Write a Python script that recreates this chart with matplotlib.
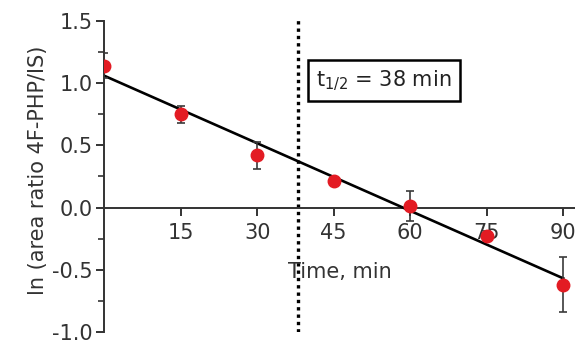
import matplotlib.pyplot as plt
import numpy as np
from matplotlib.ticker import MultipleLocator

time_min = [0, 15, 30, 45, 60, 75, 90]
ln_ratio = [1.14, 0.75, 0.42, 0.21, 0.01, -0.23, -0.62]
ln_err = [0.10, 0.07, 0.11, 0.03, 0.12, 0.04, 0.22]
fit_intercept = 1.06
fit_slope = -0.0181
t_half = 38

plt.rcParams['font.family'] = 'DejaVu Sans'
plt.rcParams['axes.unicode_minus'] = False
fig = plt.figure(figsize=(5.75, 3.46), dpi=100)
ax = fig.add_axes([0.181, 0.0405, 0.819, 0.935])

ax.set_xlim(0, 92.3)
ax.set_ylim(-1.0, 1.6)

# fit line
xf = np.array([0, 90])
ax.plot(xf, fit_intercept + fit_slope * xf, color='black', lw=1.9, zorder=3)

ax.errorbar(time_min, ln_ratio, yerr=ln_err, fmt='o', color='#e31b23',
            ms=9, ecolor='#3a3a3a', elinewidth=1.2, capsize=3, capthick=1.2,
            zorder=4)

ax.vlines(t_half, -1.0, 1.53, colors='black', linestyles=(0, (1, 1.2)), lw=2.4, zorder=2)

ax.text(54.8, 1.02, r'$\mathregular{t_{1/2}}$ = 38 min', fontsize=15,
        ha='center', va='center', color='#222222',
        bbox=dict(boxstyle='square,pad=0.4', fc='white', ec='black', lw=1.8))

ax.text(46.3, -0.52, 'Time, min', fontsize=15, ha='center', va='center', color='#333333')
ax.set_ylabel('ln (area ratio 4F-PHP/IS)', fontsize=15, color='#333333', labelpad=3)

for s in ['top', 'right']:
    ax.spines[s].set_visible(False)
ax.spines['bottom'].set_position(('data', 0))
ax.spines['left'].set_bounds(-1.0, 1.5)
for s in ['left', 'bottom']:
    ax.spines[s].set_linewidth(1.4)
    ax.spines[s].set_color('#333333')

ax.set_xticks([15, 30, 45, 60, 75, 90])
ax.set_yticks([-1.0, -0.5, 0.0, 0.5, 1.0, 1.5])
ax.yaxis.set_minor_locator(MultipleLocator(0.25))
ax.tick_params(axis='both', which='major', length=6, width=1.4, color='#333333',
               labelsize=15, labelcolor='#333333')
ax.tick_params(axis='y', which='minor', length=4, width=1.2, color='#333333')
ax.tick_params(axis='x', pad=5)
ax.tick_params(axis='y', pad=2)

fig.savefig('out.png', dpi=100)
